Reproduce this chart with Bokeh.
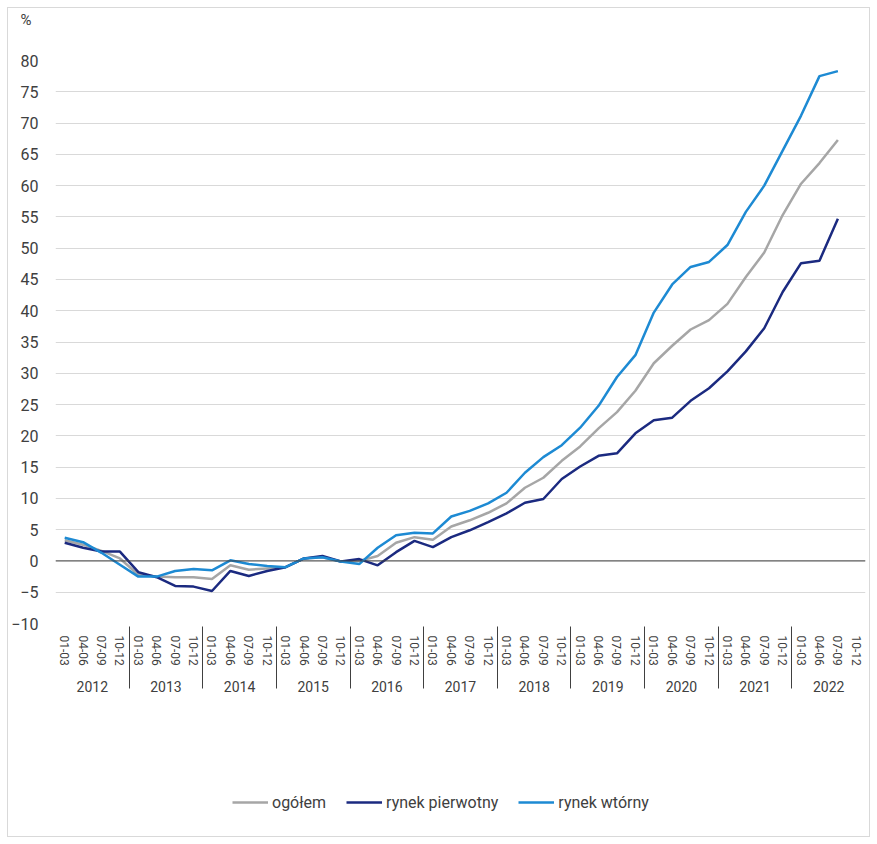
from bokeh.plotting import figure
from bokeh.layouts import column
from bokeh.models import (FactorRange, Range1d, Span, Legend, LegendItem,
                          SingleIntervalTicker, Title)
from bokeh.embed import file_html
from bokeh.resources import INLINE

years = ["2012", "2013", "2014", "2015", "2016", "2017", "2018", "2019", "2020", "2021", "2022"]
quarters = ["01-03", "04-06", "07-09", "10-12"]

ogolem = [3.3, 2.6, 1.6, 0.4, -2.2, -2.5, -2.6, -2.6, -2.9, -0.7, -1.4, -1.2, -1.0, 0.4, 0.6, -0.1,
          0.0, 0.8, 2.9, 3.8, 3.4, 5.5, 6.5, 7.7, 9.2, 11.7, 13.3, 16.0, 18.3, 21.2, 23.8, 27.2,
          31.6, 34.4, 37.0, 38.5, 41.1, 45.4, 49.3, 55.3, 60.3, 63.6, 67.3]
pierwotny = [2.9, 2.1, 1.5, 1.5, -1.8, -2.6, -4.0, -4.1, -4.8, -1.6, -2.4, -1.6, -1.0, 0.4, 0.8, -0.1,
             0.3, -0.7, 1.4, 3.2, 2.2, 3.8, 4.9, 6.2, 7.6, 9.3, 9.9, 13.1, 15.1, 16.8, 17.2, 20.4,
             22.5, 22.9, 25.6, 27.6, 30.3, 33.5, 37.2, 43.0, 47.6, 48.0, 54.7]
wtorny = [3.7, 3.0, 1.3, -0.6, -2.5, -2.5, -1.6, -1.3, -1.5, 0.1, -0.5, -0.8, -1.0, 0.4, 0.6, -0.1,
          -0.5, 2.1, 4.1, 4.5, 4.4, 7.1, 8.0, 9.2, 10.9, 14.1, 16.6, 18.5, 21.3, 24.8, 29.4, 32.9,
          39.7, 44.2, 47.0, 47.8, 50.5, 55.8, 60.0, 65.6, 71.2, 77.5, 78.3]

series_names = ["ogółem", "rynek pierwotny", "rynek wtórny"]
colors = ["#A6A6A6", "#1B2A80", "#1D8AD3"]
unit_label = "%"

factors = [(y, q) for y in years for q in quarters]
xs = factors[:len(ogolem)]

FONT = "Roboto"
TXT = "#404040"
W = 861

# ---- top strip carrying the unit label as a title
p_top = figure(width=W, height=42, output_backend="svg", toolbar_location=None,
               x_axis_location=None, y_axis_location=None, min_border=0,
               min_border_left=44, min_border_right=4)
p_top.outline_line_color = None
p_top.grid.visible = False
p_top.add_layout(Title(text=unit_label, align="left", offset=-35, standoff=0,
                       text_font=FONT, text_font_size="15px", text_font_style="normal",
                       text_color=TXT), "above")

# ---- main chart
p = figure(width=W, height=668, output_backend="svg", toolbar_location=None,
           x_range=FactorRange(*factors, group_padding=0, subgroup_padding=0, factor_padding=0, range_padding=0),
           y_range=Range1d(-10, 80),
           min_border_left=44, min_border_right=4, min_border_top=10, min_border_bottom=95)
p.outline_line_color = None

p.yaxis.ticker = SingleIntervalTicker(interval=5)
p.yaxis.axis_line_color = None
p.yaxis.major_tick_line_color = None
p.yaxis.major_tick_out = 0
p.yaxis.major_tick_in = 0
p.yaxis.minor_tick_line_color = None
p.yaxis.major_label_standoff = 13
p.yaxis.major_label_text_font = FONT
p.yaxis.major_label_text_font_size = "16px"
p.yaxis.major_label_text_color = TXT
p.ygrid.grid_line_color = "#d9d9d9"
p.ygrid.grid_line_width = 1
p.xgrid.grid_line_color = None

ax = p.xaxis[0]
ax.axis_line_color = None
ax.major_tick_line_color = None
ax.major_tick_out = 0
ax.major_tick_in = 0
ax.major_label_orientation = "vertical"
ax.major_label_standoff = 12
ax.major_label_text_font = FONT
ax.major_label_text_font_size = "12px"
ax.major_label_text_color = TXT
ax.group_text_font = FONT
ax.group_text_font_size = "14px"
ax.group_text_color = TXT
ax.group_text_font_style = "normal"
ax.group_label_orientation = "horizontal"
ax.separator_line_color = "#404040"
ax.separator_line_width = 1

p.add_layout(Span(location=0, dimension="width", line_color="#404040", line_width=1))

for vals, c in zip([ogolem, pierwotny, wtorny], colors):
    p.line(x=xs, y=vals, line_color=c, line_width=2.5)

# ---- legend strip (series drawn out of view, only their legend swatches show)
p_leg = figure(width=W, height=118, output_backend="svg", toolbar_location=None,
               x_range=FactorRange(*factors, range_padding=0), y_range=Range1d(500, 501),
               x_axis_location=None, y_axis_location=None, min_border=0,
               min_border_left=44, min_border_right=4)
p_leg.outline_line_color = None
p_leg.grid.visible = False
leg_renderers = [p_leg.line(x=xs, y=vals, line_color=c, line_width=2.5)
                 for vals, c in zip([ogolem, pierwotny, wtorny], colors)]
legend = Legend(items=[LegendItem(label=n, renderers=[r]) for n, r in zip(series_names, leg_renderers)],
                orientation="horizontal", location=(177, 24),
                glyph_width=36, glyph_height=20, label_standoff=4, spacing=20, padding=0,
                border_line_color=None, background_fill_alpha=0,
                label_text_font=FONT, label_text_font_size="16px", label_text_color=TXT)
p_leg.add_layout(legend, "center")

layout = column(p_top, p, p_leg, spacing=0,
                styles={"margin-left": "8px", "margin-top": "8px",
                        "outline": "1px solid #d9d9d9"})

open("out.html", "w").write(file_html(layout, INLINE))
